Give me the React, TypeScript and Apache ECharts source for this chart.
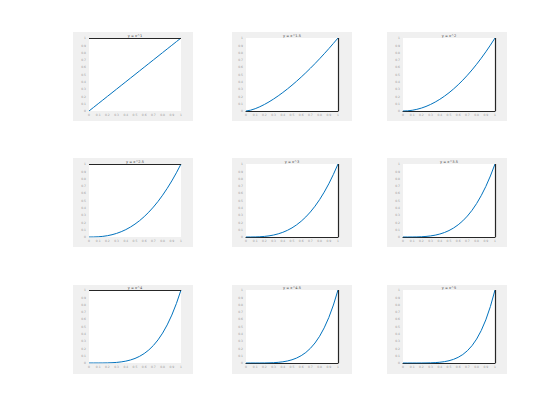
import React, { useEffect, useRef } from "react";
import * as echarts from "echarts";

const xs = [0, 0.05, 0.1, 0.15, 0.2, 0.25, 0.3, 0.35, 0.4, 0.45, 0.5, 0.55, 0.6, 0.65, 0.7, 0.75, 0.8, 0.85, 0.9, 0.95, 1];

const y1 = [0, 0.05, 0.1, 0.15, 0.2, 0.25, 0.3, 0.35, 0.4, 0.45, 0.5, 0.55, 0.6, 0.65, 0.7, 0.75, 0.8, 0.85, 0.9, 0.95, 1];
const y15 = [0, 0.0112, 0.0316, 0.0581, 0.0894, 0.125, 0.1643, 0.2071, 0.253, 0.3019, 0.3536, 0.4079, 0.4648, 0.524, 0.5857, 0.6495, 0.7155, 0.7837, 0.8538, 0.926, 1];
const y2 = [0, 0.0025, 0.01, 0.0225, 0.04, 0.0625, 0.09, 0.1225, 0.16, 0.2025, 0.25, 0.3025, 0.36, 0.4225, 0.49, 0.5625, 0.64, 0.7225, 0.81, 0.9025, 1];
const y25 = [0, 0.00056, 0.00316, 0.00871, 0.01789, 0.03125, 0.04929, 0.07247, 0.1012, 0.1358, 0.1768, 0.2243, 0.2789, 0.3406, 0.41, 0.4871, 0.5724, 0.6661, 0.7684, 0.8797, 1];
const y3 = [0, 0.000125, 0.001, 0.003375, 0.008, 0.015625, 0.027, 0.042875, 0.064, 0.091125, 0.125, 0.166375, 0.216, 0.274625, 0.343, 0.421875, 0.512, 0.614125, 0.729, 0.857375, 1];
const y35 = [0, 0.000028, 0.000316, 0.001307, 0.003578, 0.007813, 0.01479, 0.02537, 0.04048, 0.06113, 0.08839, 0.1234, 0.1673, 0.2214, 0.287, 0.3653, 0.4579, 0.5662, 0.6916, 0.8357, 1];
const y4 = [0, 0.00000625, 0.0001, 0.000506, 0.0016, 0.003906, 0.0081, 0.015006, 0.0256, 0.041006, 0.0625, 0.091506, 0.1296, 0.178506, 0.2401, 0.316406, 0.4096, 0.522006, 0.6561, 0.814506, 1];
const y45 = [0, 0.0000014, 0.0000316, 0.000196, 0.000716, 0.001953, 0.004436, 0.008878, 0.01619, 0.02751, 0.04419, 0.06786, 0.1004, 0.1439, 0.2009, 0.274, 0.3663, 0.4813, 0.6224, 0.7939, 1];
const y5 = [0, 0.0000003, 0.00001, 0.0000759, 0.00032, 0.000977, 0.00243, 0.005252, 0.01024, 0.018453, 0.03125, 0.050328, 0.07776, 0.116029, 0.16807, 0.237305, 0.32768, 0.443705, 0.59049, 0.773781, 1];

const seriesValues = [y1, y15, y2, y25, y3, y35, y4, y45, y5];
const titles = ["y = x^1", "y = x^1.5", "y = x^2", "y = x^2.5", "y = x^3", "y = x^3.5", "y = x^4", "y = x^4.5", "y = x^5"];

const colPlotLeft = [89, 246, 403];
const rowPlotTop = [38, 164, 290];
const plotW = 92;
const plotH = 73;
const colGrayLeft = [73, 232, 387];
const rowGrayTop = [32, 158, 285];
const grayW = 120;
const grayH = 89;

export default function App() {
  const ref = useRef<HTMLDivElement>(null);
  useEffect(() => {
    if (!ref.current) return;
    const chart = echarts.init(ref.current, null, { renderer: "svg" });
    const grids: any[] = [];
    const xAxes: any[] = [];
    const yAxes: any[] = [];
    const series: any[] = [];
    const title: any[] = [];
    const graphic: any[] = [];
    for (let i = 0; i < 9; i++) {
      const r = Math.floor(i / 3);
      const c = i % 3;
      graphic.push({
        type: "rect",
        z: -10,
        shape: { x: colGrayLeft[c], y: rowGrayTop[r], width: grayW, height: grayH },
        style: { fill: "#f0f0f0" },
      });
      grids.push({
        left: colPlotLeft[c],
        top: rowPlotTop[r],
        width: plotW,
        height: plotH,
        show: true,
        backgroundColor: "#ffffff",
        borderWidth: 0,
      });
      const dark = c !== 0;
      xAxes.push({
        type: "value",
        gridIndex: i,
        min: 0,
        max: 1,
        interval: 0.1,
        axisLine: { show: dark, lineStyle: { color: "#262626", width: 1.2 } },
        axisTick: { show: false },
        splitLine: { show: false },
        axisLabel: { fontSize: 3, color: "#999", margin: 2, fontFamily: "DejaVu Sans" },
      });
      yAxes.push({
        type: "value",
        gridIndex: i,
        min: 0,
        max: 1,
        interval: 0.1,
        axisLine: { show: false },
        axisTick: { show: false },
        splitLine: { show: false },
        axisLabel: { fontSize: 3, color: "#999", margin: 3, fontFamily: "DejaVu Sans" },
      });
      const markData: any[] = dark ? [{ xAxis: 1 }] : [{ yAxis: 1 }];
      series.push({
        type: "line",
        xAxisIndex: i,
        yAxisIndex: i,
        data: xs.map((x, k) => [x, seriesValues[i][k]]),
        showSymbol: false,
        smooth: false,
        lineStyle: { color: "#0072BD", width: 1 },
        itemStyle: { color: "#0072BD" },
        markLine: {
          silent: true,
          symbol: "none",
          label: { show: false },
          lineStyle: { color: "#262626", width: 1.2, type: "solid" },
          data: markData,
        },
      });
      title.push({
        text: titles[i],
        left: colPlotLeft[c] + plotW / 2,
        textAlign: "center",
        top: rowPlotTop[r] - 4,
        padding: 0,
        textStyle: { fontSize: 3.5, fontWeight: "normal", color: "#444", fontFamily: "DejaVu Sans" },
      });
    }
    chart.setOption({
      animation: false,
      backgroundColor: "#ffffff",
      title,
      grid: grids,
      xAxis: xAxes,
      yAxis: yAxes,
      series,
      graphic,
    });
    return () => chart.dispose();
  }, []);
  return (
    <div
      ref={ref}
      style={{ position: "fixed", left: 0, top: 0, width: 560, height: 420 }}
    />
  );
}
